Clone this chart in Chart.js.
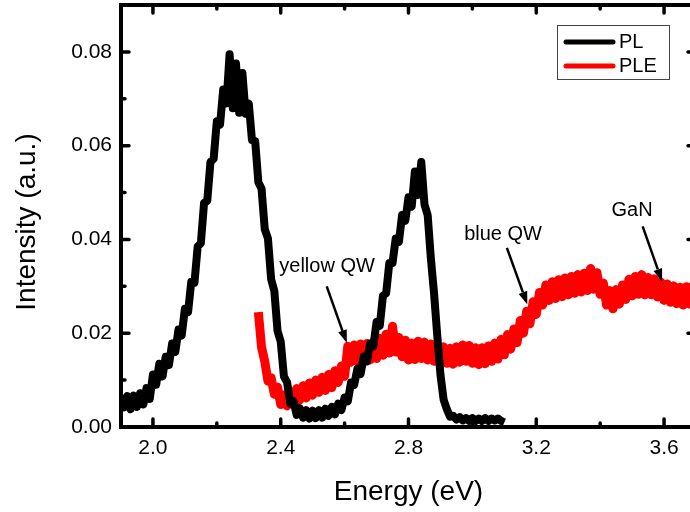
<!DOCTYPE html>
<html>
<head>
<meta charset="utf-8">
<script src="https://cdn.jsdelivr.net/npm/chart.js@4.4.1/dist/chart.umd.min.js"></script>
<style>
	html, body { margin: 0; padding: 0; background: #fff; overflow: hidden; }
	#wrap { width: 700px; height: 512px; }
</style>
</head>
<body>
<div id="wrap"><canvas id="plChart" width="700" height="512"></canvas></div>
<script>
// PL spectrum (black)
var plEnergy = [
	1.90, 1.91, 1.92, 1.93, 1.94, 1.95, 1.96, 1.97, 1.98, 1.99,
	2.00, 2.01, 2.02, 2.03, 2.04, 2.05, 2.06, 2.07, 2.08, 2.09,
	2.10, 2.11, 2.12, 2.13, 2.14, 2.15, 2.16, 2.17, 2.18, 2.19,
	2.20, 2.21, 2.22, 2.23, 2.24, 2.25, 2.26, 2.27, 2.28, 2.29,
	2.30, 2.31, 2.32, 2.33, 2.34, 2.35, 2.36, 2.37, 2.38, 2.39,
	2.40, 2.41, 2.42, 2.43, 2.44, 2.45, 2.46, 2.47, 2.48, 2.49,
	2.50, 2.51, 2.52, 2.53, 2.54, 2.55, 2.56, 2.57, 2.58, 2.59,
	2.60, 2.61, 2.62, 2.63, 2.64, 2.65, 2.66, 2.67, 2.68, 2.69,
	2.70, 2.71, 2.72, 2.73, 2.74, 2.75, 2.76, 2.77, 2.78, 2.79,
	2.80, 2.81, 2.82, 2.83, 2.84, 2.85, 2.86, 2.87, 2.88, 2.89,
	2.90, 2.91, 2.92, 2.93, 2.94, 2.95, 2.96, 2.97, 2.98, 2.99,
	3.00, 3.01, 3.02, 3.03, 3.04, 3.05, 3.06, 3.07, 3.08, 3.09, 3.10
];
var plIntensity = [
	.0068, .0042, .0066, .0038, .0067, .0043, .0072, .0048, .0083, .0060,
	.0112, .0090, .0135, .0108, .0150, .0132, .0178, .0160, .0208, .0195,
	.0252, .0245, .0310, .0308, .0385, .0392, .0478, .0482, .0565, .0572,
	.0652, .0645, .0720, .0690, .0795, .0680, .0775, .0670, .0755, .0668,
	.0690, .0612, .0610, .0522, .0508, .0422, .0402, .0315, .0290, .0205,
	.0182, .0108, .0095, .0050, .0055, .0026, .0040, .0020, .0036, .0018,
	.0035, .0019, .0036, .0020, .0039, .0024, .0043, .0027, .0050, .0036,
	.0063, .0055, .0095, .0090, .0124, .0113, .0150, .0140, .0178, .0172,
	.0224, .0216, .0280, .0285, .0350, .0350, .0402, .0395, .0452, .0440,
	.0490, .0470, .0545, .0495, .0565, .0475, .0452, .0360, .0285, .0195,
	.0112, .0058, .0038, .0022, .0024, .0016, .0021, .0014, .0019, .0013,
	.0019, .0013, .0018, .0013, .0019, .0013, .0018, .0014, .0018, .0013, .0010
];

// PLE spectrum (red)
var pleEnergy = [
	2.33, 2.34, 2.35, 2.36, 2.37, 2.38, 2.39,
	2.40, 2.41, 2.42, 2.43, 2.44, 2.45, 2.46, 2.47, 2.48, 2.49,
	2.50, 2.51, 2.52, 2.53, 2.54, 2.55, 2.56, 2.57, 2.58, 2.59,
	2.60, 2.61, 2.62, 2.63, 2.64, 2.65, 2.66, 2.67, 2.68, 2.69,
	2.70, 2.71, 2.72, 2.73, 2.74, 2.75, 2.76, 2.77, 2.78, 2.79,
	2.80, 2.81, 2.82, 2.83, 2.84, 2.85, 2.86, 2.87, 2.88, 2.89,
	2.90, 2.91, 2.92, 2.93, 2.94, 2.95, 2.96, 2.97, 2.98, 2.99,
	3.00, 3.01, 3.02, 3.03, 3.04, 3.05, 3.06, 3.07, 3.08, 3.09,
	3.10, 3.11, 3.12, 3.13, 3.14, 3.15, 3.16, 3.17, 3.18, 3.19,
	3.20, 3.21, 3.22, 3.23, 3.24, 3.25, 3.26, 3.27, 3.28, 3.29,
	3.30, 3.31, 3.32, 3.33, 3.34, 3.35, 3.36, 3.37, 3.38, 3.39,
	3.40, 3.41, 3.42, 3.43, 3.44, 3.45, 3.46, 3.47, 3.48, 3.49,
	3.50, 3.51, 3.52, 3.53, 3.54, 3.55, 3.56, 3.57, 3.58, 3.59,
	3.60, 3.61, 3.62, 3.63, 3.64, 3.65, 3.66, 3.67, 3.68, 3.69, 3.70
];
var pleIntensity = [
	.0245, .0170, .0140, .0098, .0105, .0070, .0085,
	.0048, .0068, .0045, .0075, .0052, .0082, .0058, .0088, .0062, .0094,
	.0068, .0100, .0074, .0106, .0078, .0112, .0084, .0120, .0095, .0130,
	.0108, .0172, .0138, .0175, .0140, .0177, .0141, .0178, .0143, .0181,
	.0146, .0189, .0153, .0198, .0158, .0215, .0160, .0191, .0150, .0185,
	.0143, .0179, .0144, .0183, .0146, .0181, .0143, .0177, .0140, .0175,
	.0138, .0171, .0136, .0168, .0134, .0171, .0138, .0175, .0140, .0174,
	.0136, .0169, .0133, .0169, .0135, .0173, .0140, .0179, .0145, .0187,
	.0154, .0197, .0166, .0209, .0180, .0227, .0200, .0247, .0220, .0267,
	.0240, .0287, .0260, .0303, .0270, .0310, .0274, .0314, .0278, .0318,
	.0282, .0321, .0285, .0325, .0288, .0328, .0291, .0338, .0294, .0329,
	.0283, .0307, .0260, .0291, .0252, .0293, .0262, .0303, .0272, .0315,
	.0280, .0321, .0283, .0325, .0282, .0319, .0282, .0316, .0277, .0309,
	.0270, .0305, .0266, .0301, .0263, .0298, .0260, .0299, .0262, .0301, .0264
];

// tick labels
var xTicks = [2.0, 2.4, 2.8, 3.2, 3.6];
var xMinorTicks = [2.2, 2.6, 3.0, 3.4];
var yTicks = [0.00, 0.02, 0.04, 0.06, 0.08];
var yMinorTicks = [0.01, 0.03, 0.05, 0.07];

// text labels with arrows (data coordinates)
var noteText = ["yellow QW", "blue QW", "GaN"];
var noteAt = [[2.545, 0.0331], [3.096, 0.0399], [3.50, 0.0451]];
var arrowFrom = [[2.544, 0.0300], [3.108, 0.0382], [3.533, 0.0428]];
var arrowTo = [[2.607, 0.0179], [3.172, 0.0261], [3.594, 0.0310]];

var fontFamily = "'Liberation Sans', Arial, sans-serif";

function toPoints(xs, ys) {
	return xs.map(function (x, i) {
		return { x: x, y: ys[i] };
	});
}

// no extra room for the outer tick labels, the frame is placed by hand
function noScalePadding(scale) {
	scale.paddingTop = 0;
	scale.paddingBottom = 0;
	scale.paddingLeft = 0;
	scale.paddingRight = 0;
}

// frame, inward ticks, legend box, arrows and y title
var decorations = {
	id: "decorations",
	afterDatasetsDraw: function (chart) {
		var ctx = chart.ctx;
		var area = chart.chartArea;
		var xs = chart.scales.x;
		var ys = chart.scales.y;
		ctx.save();
		ctx.strokeStyle = "#000";
		ctx.lineCap = "round";

		// inward tick marks on all four sides
		function tickX(v, len) {
			var px = xs.getPixelForValue(v);
			ctx.beginPath();
			ctx.moveTo(px, area.bottom);
			ctx.lineTo(px, area.bottom - len);
			ctx.moveTo(px, area.top);
			ctx.lineTo(px, area.top + len);
			ctx.stroke();
		}
		function tickY(v, len) {
			var py = ys.getPixelForValue(v);
			ctx.beginPath();
			ctx.moveTo(area.left, py);
			ctx.lineTo(area.left + len, py);
			ctx.moveTo(area.right, py);
			ctx.lineTo(area.right - len, py);
			ctx.stroke();
		}
		ctx.lineWidth = 3.5;
		xTicks.forEach(function (v) { tickX(v, 8); });
		xMinorTicks.forEach(function (v) { tickX(v, 4); });
		yTicks.forEach(function (v) { tickY(v, 8); });
		yMinorTicks.forEach(function (v) { tickY(v, 4); });

		// frame
		ctx.lineCap = "butt";
		ctx.lineWidth = 4;
		ctx.strokeRect(area.left, area.top, area.right - area.left, area.bottom - area.top);

		// legend
		ctx.lineWidth = 1;
		ctx.strokeStyle = "#444";
		ctx.strokeRect(557.5, 25.5, 112, 54);
		ctx.font = "20px " + fontFamily;
		ctx.textAlign = "left";
		ctx.textBaseline = "middle";
		ctx.lineCap = "round";
		chart.data.datasets.forEach(function (ds, i) {
			var ly = 42 + i * 24;
			ctx.strokeStyle = ds.borderColor;
			ctx.lineWidth = 5;
			ctx.beginPath();
			ctx.moveTo(566, ly);
			ctx.lineTo(613, ly);
			ctx.stroke();
			ctx.fillStyle = "#000";
			ctx.fillText(ds.label, 619, ly);
		});

		// annotations
		ctx.strokeStyle = "#000";
		ctx.fillStyle = "#000";
		ctx.textAlign = "center";
		ctx.textBaseline = "alphabetic";
		noteText.forEach(function (t, i) {
			ctx.fillText(t, xs.getPixelForValue(noteAt[i][0]), ys.getPixelForValue(noteAt[i][1]));
			var x0 = xs.getPixelForValue(arrowFrom[i][0]);
			var y0 = ys.getPixelForValue(arrowFrom[i][1]);
			var x1 = xs.getPixelForValue(arrowTo[i][0]);
			var y1 = ys.getPixelForValue(arrowTo[i][1]);
			var ang = Math.atan2(y1 - y0, x1 - x0);
			var hl = 13, hw = 4.5;
			var bx = x1 - hl * Math.cos(ang);
			var by = y1 - hl * Math.sin(ang);
			ctx.lineWidth = 2.5;
			ctx.lineCap = "butt";
			ctx.beginPath();
			ctx.moveTo(x0, y0);
			ctx.lineTo(bx, by);
			ctx.stroke();
			ctx.beginPath();
			ctx.moveTo(x1, y1);
			ctx.lineTo(bx + hw * Math.sin(ang), by - hw * Math.cos(ang));
			ctx.lineTo(bx - hw * Math.sin(ang), by + hw * Math.cos(ang));
			ctx.closePath();
			ctx.fill();
		});

		// y axis title
		ctx.translate(27, 222);
		ctx.rotate(-Math.PI / 2);
		ctx.font = "28px " + fontFamily;
		ctx.textAlign = "center";
		ctx.textBaseline = "middle";
		ctx.fillText("Intensity (a.u.)", 0, 0);
		ctx.restore();
	}
};

var ctx = document.getElementById("plChart").getContext("2d");
var myChart = new Chart(ctx, {
	type: "line",
	data: {
		datasets: [
			{
				label: "PL",
				data: toPoints(plEnergy, plIntensity),
				borderColor: "#000000",
				borderWidth: 8,
				borderJoinStyle: "round",
				pointRadius: 0,
				tension: 0,
				order: 0,
			},
			{
				label: "PLE",
				data: toPoints(pleEnergy, pleIntensity),
				borderColor: "#ff0000",
				borderWidth: 9,
				borderJoinStyle: "round",
				pointRadius: 0,
				tension: 0,
				order: 1,
			},
		],
	},
	options: {
		responsive: false,
		animation: false,
		layout: {
			padding: { left: 0, right: 4, top: 5, bottom: 0 },
		},
		scales: {
			x: {
				type: "linear",
				min: 1.9,
				max: 3.7,
				grid: { display: false, drawTicks: false },
				border: { display: false },
				afterFit: function (scale) {
					scale.height = 85;
					noScalePadding(scale);
				},
				afterBuildTicks: function (scale) {
					scale.ticks = xTicks.map(function (v) { return { value: v }; });
				},
				ticks: {
					color: "#000",
					padding: 9,
					font: { family: fontFamily, size: 21 },
					callback: function (v) { return v.toFixed(1); },
				},
				title: {
					display: true,
					text: "Energy (eV)",
					color: "#000",
					font: { family: fontFamily, size: 28 },
					padding: { top: 0, bottom: 3 },
				},
			},
			y: {
				min: 0,
				max: 0.09,
				grid: { display: false, drawTicks: false },
				border: { display: false },
				afterFit: function (scale) {
					scale.width = 121;
					noScalePadding(scale);
				},
				afterBuildTicks: function (scale) {
					scale.ticks = yTicks.map(function (v) { return { value: v }; });
				},
				ticks: {
					color: "#000",
					padding: 9,
					font: { family: fontFamily, size: 21 },
					callback: function (v) { return v.toFixed(2); },
				},
			},
		},
		plugins: {
			legend: { display: false },
			tooltip: { enabled: false },
		},
	},
	plugins: [decorations],
});
</script>
</body>
</html>
